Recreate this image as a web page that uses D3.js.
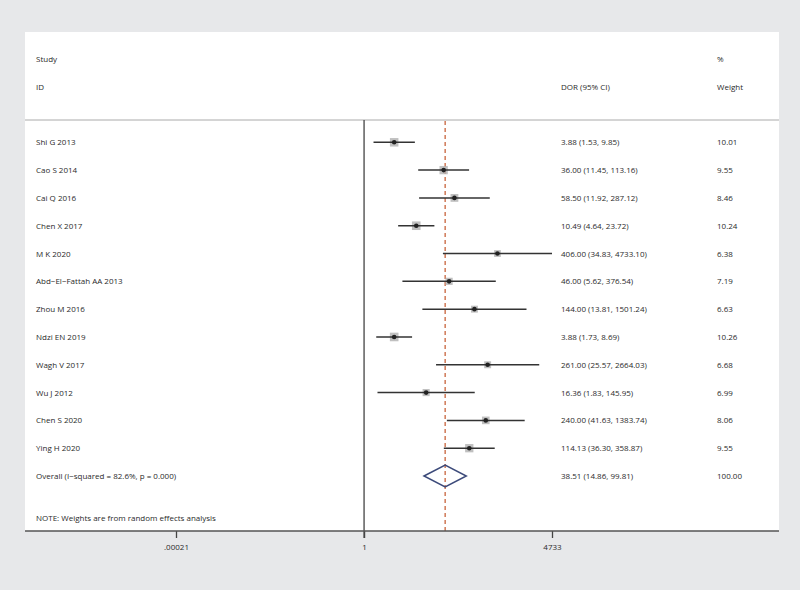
<!DOCTYPE html>
<html>
<head>
<meta charset="utf-8">
<script src="https://cdn.jsdelivr.net/npm/d3@7"></script>
<style>
  body { margin: 0; background: #e7e8ea; }
  svg { display: block; }
  text { font-family: "Open Sans", "Noto Sans", sans-serif; fill: #2a2a2a; }
</style>
</head>
<body>
<svg id="chart"></svg>
<script>
const width = 800;
const height = 590;
const fs = 8;

// data
const studies = ['Shi G 2013', 'Cao S 2014', 'Cai Q 2016', 'Chen X 2017', 'M K 2020',
  'Abd\u2212El\u2212Fattah AA 2013', 'Zhou M 2016', 'Ndzi EN 2019', 'Wagh V 2017',
  'Wu J 2012', 'Chen S 2020', 'Ying H 2020'];
const dor = [3.88, 36.00, 58.50, 10.49, 406.00, 46.00, 144.00, 3.88, 261.00, 16.36, 240.00, 114.13];
const lower = [1.53, 11.45, 11.92, 4.64, 34.83, 5.62, 13.81, 1.73, 25.57, 1.83, 41.63, 36.30];
const upper = [9.85, 113.16, 287.12, 23.72, 4733.10, 376.54, 1501.24, 8.69, 2664.03, 145.95, 1383.74, 358.87];
const weights = [10.01, 9.55, 8.46, 10.24, 6.38, 7.19, 6.63, 10.26, 6.68, 6.99, 8.06, 9.55];

const overall = {label: 'Overall  (I\u2212squared = 82.6%, p = 0.000)', dor: 38.51, lower: 14.86, upper: 99.81};
const tickValues = [0.00021, 1, 4733];
const tickLabels = ['.00021', '1', '4733'];

const svg = d3.select('#chart').attr('width', width).attr('height', height);

const panel = {left: 25, right: 779, top: 32, bottom: 531};
const colLabel = 36, colDor = 561, colWeight = 717;

svg.append('rect')
  .attr('x', panel.left).attr('y', panel.top)
  .attr('width', panel.right - panel.left).attr('height', panel.bottom - panel.top)
  .attr('fill', '#fff');

const x = d3.scaleLog().domain([0.00021, 4733]).range([176, 552]).clamp(true);
const y = d3.scaleLinear().domain([0, studies.length]).range([142.3, 476]);
const boxHalf = w => Math.sqrt(w / 10.26) * 4.3;

const rows = studies.map((s, i) => ({
  study: s, dor: dor[i], lower: lower[i], upper: upper[i], weight: weights[i]
}));

// header
const header = svg.append('g').attr('font-size', fs);
header.append('text').attr('x', colLabel).attr('y', 62).text('Study');
header.append('text').attr('x', colLabel).attr('y', 90).text('ID');
header.append('text').attr('x', colDor).attr('y', 90).text('DOR (95% CI)');
header.append('text').attr('x', colWeight).attr('y', 62).text('%');
header.append('text').attr('x', colWeight).attr('y', 90).text('Weight');

svg.append('line')
  .attr('x1', panel.left).attr('x2', panel.right)
  .attr('y1', 120).attr('y2', 120)
  .attr('stroke', '#aaa').attr('stroke-width', 1);

// null line
svg.append('line')
  .attr('x1', x(1)).attr('x2', x(1))
  .attr('y1', 120).attr('y2', 538)
  .attr('stroke', '#444').attr('stroke-width', 1.3);

// overall dashed line
svg.append('line')
  .attr('x1', x(overall.dor)).attr('x2', x(overall.dor))
  .attr('y1', 121).attr('y2', panel.bottom)
  .attr('stroke', '#c8643c').attr('stroke-width', 1.3)
  .attr('stroke-dasharray', '4,3');

// study rows
const g = svg.selectAll('.row').data(rows).enter().append('g').attr('class', 'row');

g.append('rect')
  .attr('x', d => x(d.dor) - boxHalf(d.weight))
  .attr('y', (d, i) => y(i) - boxHalf(d.weight))
  .attr('width', d => boxHalf(d.weight) * 2)
  .attr('height', d => boxHalf(d.weight) * 2)
  .attr('fill', '#b0b0b0').attr('opacity', 0.8);

g.append('line')
  .attr('x1', d => x(d.lower)).attr('x2', d => x(d.upper))
  .attr('y1', (d, i) => y(i)).attr('y2', (d, i) => y(i))
  .attr('stroke', '#333').attr('stroke-width', 1.5);

g.append('circle')
  .attr('cx', d => x(d.dor)).attr('cy', (d, i) => y(i)).attr('r', 2.3)
  .attr('fill', '#222');

g.append('text').attr('font-size', fs)
  .attr('x', colLabel).attr('y', (d, i) => y(i) + 3)
  .text(d => d.study);

g.append('text').attr('font-size', fs)
  .attr('x', colDor).attr('y', (d, i) => y(i) + 3)
  .text(d => `${d.dor.toFixed(2)} (${d.lower.toFixed(2)}, ${d.upper.toFixed(2)})`);

g.append('text').attr('font-size', fs)
  .attr('x', colWeight).attr('y', (d, i) => y(i) + 3)
  .text(d => d.weight.toFixed(2));

// overall
const oy = y(studies.length);
svg.append('path')
  .attr('d', `M${x(overall.lower)},${oy} L${x(overall.dor)},${oy - 11} L${x(overall.upper)},${oy} L${x(overall.dor)},${oy + 11} Z`)
  .attr('fill', 'none').attr('stroke', '#3c4a7a').attr('stroke-width', 1.5);

svg.append('text').attr('font-size', fs).attr('x', colLabel).attr('y', oy + 3).text(overall.label);
svg.append('text').attr('font-size', fs).attr('x', colDor).attr('y', oy + 3)
  .text(`${overall.dor.toFixed(2)} (${overall.lower.toFixed(2)}, ${overall.upper.toFixed(2)})`);
svg.append('text').attr('font-size', fs).attr('x', colWeight).attr('y', oy + 3).text('100.00');

svg.append('text').attr('font-size', fs).attr('x', colLabel).attr('y', 521)
  .text('NOTE: Weights are from random effects analysis');

// axis
const axis = svg.append('g').attr('transform', `translate(0, ${panel.bottom})`)
  .call(d3.axisBottom(x).tickValues(tickValues).tickFormat((d, i) => tickLabels[i]).tickSize(7).tickSizeOuter(0));
axis.select('.domain').remove();
axis.append('line').attr('x1', panel.left).attr('x2', panel.right)
  .attr('stroke', '#555').attr('stroke-width', 1.3);
axis.selectAll('.tick line').attr('stroke', '#444').attr('stroke-width', 1.3);
axis.selectAll('.tick text').attr('font-size', fs).attr('fill', '#2a2a2a')
  .attr('font-family', '"Open Sans", sans-serif').attr('dy', '1.1em');
</script>
</body>
</html>
